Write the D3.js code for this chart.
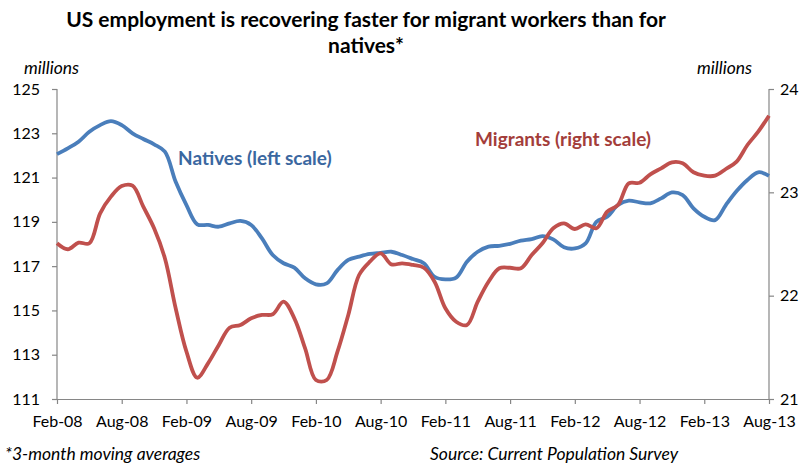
<!DOCTYPE html>
<html><head><meta charset="utf-8">
<script src="https://cdn.jsdelivr.net/npm/d3@7"></script>
<style>
body{margin:0;background:#fff;}
svg text{font-family:Lato,"Open Sans",sans-serif;}
</style></head>
<body><svg id="c" width="804" height="465"></svg>
<script>
const months = ["Feb-08","Aug-08","Feb-09","Aug-09","Feb-10","Aug-10","Feb-11","Aug-11","Feb-12","Aug-12","Feb-13","Aug-13"];
const leftTicks = [111,113,115,117,119,121,123,125];
const rightTicks = [21,22,23,24];
const natives = [122.06,122.32,122.62,123.07,123.37,123.55,123.37,123.0,122.74,122.5,122.17,120.81,
 119.76,118.89,118.86,118.78,118.93,119.04,118.86,118.25,117.5,117.13,116.93,116.45,
 116.18,116.22,116.82,117.28,117.43,117.55,117.6,117.65,117.5,117.32,117.13,116.52,
 116.4,116.48,117.2,117.65,117.88,117.92,118.01,118.15,118.22,118.36,118.21,117.85,
 117.8,118.03,119.0,119.23,119.76,119.96,119.88,119.84,120.06,120.33,120.21,119.61,
 119.23,119.08,119.76,120.39,120.89,121.24,121.08];
const migrants = [22.507,22.449,22.513,22.507,22.797,22.958,23.061,23.064,22.861,22.652,22.362,21.878,
 21.458,21.206,21.345,21.523,21.69,21.716,21.781,21.813,21.82,21.942,21.781,21.49,
 21.184,21.184,21.458,21.813,22.2,22.329,22.41,22.303,22.313,22.297,22.27,22.135,
 21.878,21.748,21.716,21.942,22.135,22.265,22.27,22.265,22.393,22.507,22.652,22.7,
 22.645,22.69,22.652,22.813,22.877,23.087,23.093,23.174,23.232,23.29,23.281,23.194,
 23.161,23.161,23.226,23.297,23.458,23.587,23.742];

const svg = d3.select("#c");
const L=57, R=769, T=89, B=399;
const x = d3.scaleLinear().domain([0, natives.length-1]).range([L,R]);
const yL = d3.scaleLinear().domain([111,125]).range([B,T]);
const yR = d3.scaleLinear().domain([21,24]).range([B,T]);
const axisCol = "#868686";

// title
svg.append("text").attr("x",366).attr("y",27).attr("text-anchor","middle")
  .attr("font-size",21).attr("font-weight","bold").attr("fill","#000")
  .text("US employment is recovering faster for migrant workers than for");
svg.append("text").attr("x",366).attr("y",53).attr("text-anchor","middle")
  .attr("font-size",21).attr("font-weight","bold").attr("fill","#000")
  .text("natives*");

// units
svg.append("text").attr("x",24).attr("y",74).attr("font-size",17.5).attr("font-style","italic").text("millions");
svg.append("text").attr("x",697).attr("y",74).attr("font-size",17.5).attr("font-style","italic").text("millions");

// axes
const gx = svg.append("g").attr("transform",`translate(0,${B})`)
  .call(d3.axisBottom(x).tickValues(months.map((d,i)=>i*6)).tickFormat(i=>months[i/6]).tickSize(5).tickSizeOuter(0).tickPadding(12));
const gl = svg.append("g").attr("transform",`translate(${L},0)`)
  .call(d3.axisLeft(yL).tickValues(leftTicks).tickFormat(d3.format("d")).tickSize(5).tickSizeOuter(0).tickPadding(12));
const gr = svg.append("g").attr("transform",`translate(${R},0)`)
  .call(d3.axisRight(yR).tickValues(rightTicks).tickFormat(d3.format("d")).tickSize(5).tickSizeOuter(0).tickPadding(6));
[gx,gl,gr].forEach(g=>{
  g.selectAll("path,line").attr("stroke",axisCol).attr("stroke-width",1.2);
  g.selectAll("text").attr("font-size",16).attr("fill","#000").style("font-family","Lato,sans-serif");
});
gl.select(".domain").attr("d",`M0,${T}H0V${B}`);
gr.select(".domain").attr("d",`M0,${T}H0V${B}`);

// lines
const lineN = d3.line().x((d,i)=>x(i)).y(d=>yL(d)).curve(d3.curveCatmullRom.alpha(0.5));
const lineM = d3.line().x((d,i)=>x(i)).y(d=>yR(d)).curve(d3.curveCatmullRom.alpha(0.5));
svg.append("path").datum(natives).attr("d",lineN).attr("fill","none").attr("stroke","#4a7ebb").attr("stroke-width",3.8).attr("stroke-linejoin","round");
svg.append("path").datum(migrants).attr("d",lineM).attr("fill","none").attr("stroke","#c0504d").attr("stroke-width",3.8).attr("stroke-linejoin","round");

// series labels
svg.append("text").attr("x",178).attr("y",165).attr("font-size",19).attr("font-weight","bold").attr("fill","#3a67a0").text("Natives (left scale)");
svg.append("text").attr("x",475).attr("y",146).attr("font-size",19).attr("font-weight","bold").attr("fill","#a33d3a").text("Migrants (right scale)");

// footnotes
svg.append("text").attr("x",5).attr("y",460).attr("font-size",17.5).attr("font-style","italic").text("*3-month moving averages");
svg.append("text").attr("x",430).attr("y",460).attr("font-size",17.5).attr("font-style","italic").text("Source: Current Population Survey");
</script></body></html>
